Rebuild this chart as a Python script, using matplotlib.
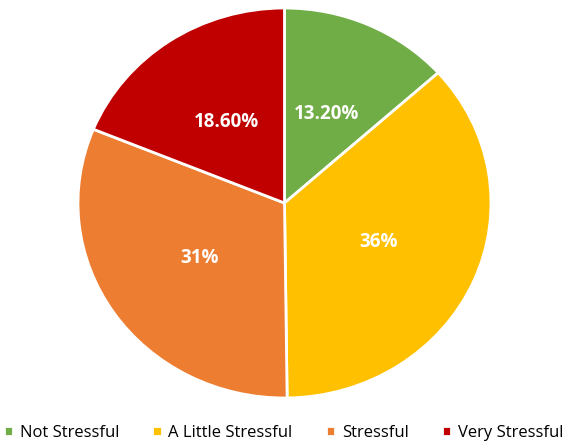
import matplotlib
matplotlib.use("Agg")
import matplotlib.pyplot as plt

categories = ["Not Stressful", "A Little Stressful", "Stressful", "Very Stressful"]
values = [13.2, 36, 31, 18.6]
labels = ["13.20%", "36%", "31%", "18.60%"]
colors = ["#70AD47", "#FFC000", "#ED7D31", "#C00000"]

plt.rcParams['font.family'] = ['Open Sans', 'DejaVu Sans']

fig = plt.figure(figsize=(5.67, 4.45), dpi=100)
ax = fig.add_axes([78/567, (445-398)/445, 413/567, 390/445])
wedges, texts = ax.pie(values, colors=colors, startangle=90, counterclock=False,
                       labels=labels, labeldistance=0.5,
                       wedgeprops=dict(edgecolor="white", linewidth=2))
for t in texts:
    t.set_color("white")
    t.set_fontsize(13.5)
    t.set_fontweight("bold")
    t.set_ha("center")
    t.set_va("center")
ax.set_aspect('auto')
ax.set_xlim(-1, 1)
ax.set_ylim(-1, 1)

fig.legend(wedges, categories, loc="center", bbox_to_anchor=(0.5, 1 - 433/445),
           ncol=4, frameon=False, fontsize=12, handlelength=0.55, handleheight=0.55,
           handletextpad=0.4, columnspacing=2.0)
fig.savefig("out.png", dpi=100)
